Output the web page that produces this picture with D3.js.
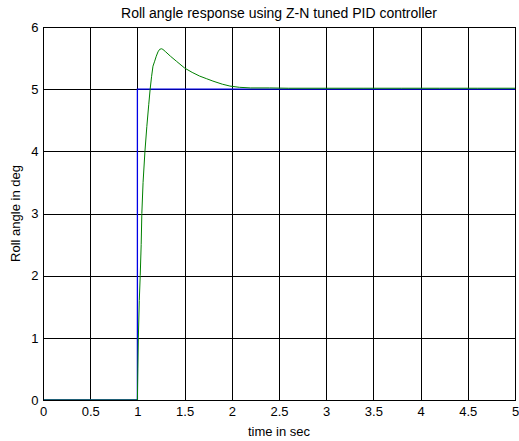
<!DOCTYPE html>
<html>
<head>
<meta charset="utf-8">
<script src="https://cdn.jsdelivr.net/npm/d3@7"></script>
<style>
  body { margin: 0; background: #fff; }
  text { font-family: "Liberation Sans", Arial, sans-serif; fill: #000; }
</style>
</head>
<body>
<div id="chart"></div>
<script>
var width = 519;
var height = 441;
var margin = {top: 27, right: 4, bottom: 41, left: 43};

// reference input (step at t = 1 s)
var stepTime = [0, 1, 1, 5];
var stepAngle = [0, 0, 5, 5];

// roll angle response
var respTime = [0, 1.0, 1.005, 1.01, 1.02, 1.03, 1.04, 1.047, 1.06, 1.08, 1.1, 1.12, 1.135, 1.15, 1.165,
  1.183, 1.2, 1.218, 1.235, 1.254, 1.27, 1.3, 1.35, 1.413, 1.5, 1.58, 1.66, 1.73, 1.8, 1.9, 1.98, 2.08,
  2.2, 2.4, 2.6, 3.0, 3.4, 3.8, 4.2, 4.6, 5.0];
var respAngle = [0, 0, 0.5, 1.0, 1.6, 2.0, 2.5, 3.0, 3.5, 4.0, 4.4, 4.75, 5.0, 5.2, 5.37,
  5.45, 5.53, 5.6, 5.64, 5.65, 5.64, 5.6, 5.53, 5.45, 5.34, 5.27, 5.21, 5.17, 5.13, 5.08, 5.05, 5.03,
  5.02, 5.02, 5.015, 5.015, 5.015, 5.015, 5.015, 5.015, 5.015];

var xTicks = [0, 0.5, 1, 1.5, 2, 2.5, 3, 3.5, 4, 4.5, 5];
var yTicks = [0, 1, 2, 3, 4, 5, 6];

var titleText = "Roll angle response using Z-N tuned PID controller";
var xLabel = "time in sec";
var yLabel = "Roll angle in deg";

var svg = d3.select("#chart").append("svg")
  .attr("width", width)
  .attr("height", height);

var x = d3.scaleLinear().domain([0, 5]).range([margin.left, width - margin.right]);
var y = d3.scaleLinear().domain([0, 6]).range([height - margin.bottom, margin.top]);

// grid
svg.append("g")
  .selectAll("line.vgrid")
  .data(xTicks)
  .enter().append("line")
  .attr("x1", function(d) { return Math.round(x(d)) + 0.5; })
  .attr("x2", function(d) { return Math.round(x(d)) + 0.5; })
  .attr("y1", y(0))
  .attr("y2", y(6))
  .attr("stroke", "#000")
  .attr("stroke-width", 1);

svg.append("g")
  .selectAll("line.hgrid")
  .data(yTicks)
  .enter().append("line")
  .attr("y1", function(d) { return Math.round(y(d)) + 0.5; })
  .attr("y2", function(d) { return Math.round(y(d)) + 0.5; })
  .attr("x1", x(0))
  .attr("x2", x(5))
  .attr("stroke", "#000")
  .attr("stroke-width", 1);

// axes labels (no extra tick marks, grid covers them)
var xAxis = d3.axisBottom(x).tickValues(xTicks).tickSize(0).tickPadding(6).tickFormat(d3.format("~g"));
var yAxis = d3.axisLeft(y).tickValues(yTicks).tickSize(0).tickPadding(5).tickFormat(d3.format("~g"));

svg.append("g")
  .attr("transform", "translate(0," + (y(0) + 0.5) + ")")
  .call(xAxis)
  .call(function(g) { g.select(".domain").remove(); })
  .selectAll("text").style("font-size", "13px").style("font-family", "Liberation Sans, Arial, sans-serif");

svg.append("g")
  .attr("transform", "translate(" + (x(0) + 0.5) + ",0)")
  .call(yAxis)
  .call(function(g) { g.select(".domain").remove(); })
  .selectAll("text").style("font-size", "13px").style("font-family", "Liberation Sans, Arial, sans-serif");

// curves
var line = d3.line()
  .x(function(d) { return x(d[0]); })
  .y(function(d) { return y(d[1]); });

svg.append("path")
  .datum(d3.zip(stepTime, stepAngle))
  .attr("d", line)
  .attr("fill", "none")
  .attr("stroke", "#0000e6")
  .attr("stroke-width", 1.3);

svg.append("path")
  .datum(d3.zip(respTime, respAngle))
  .attr("d", line)
  .attr("fill", "none")
  .attr("stroke", "#008000")
  .attr("stroke-width", 1);

// box
svg.append("rect")
  .attr("x", x(0) + 0.5)
  .attr("y", y(6) + 0.5)
  .attr("width", x(5) - x(0))
  .attr("height", y(0) - y(6))
  .attr("fill", "none")
  .attr("stroke", "#000")
  .attr("stroke-width", 1);

// titles
svg.append("text")
  .attr("x", (x(0) + x(5)) / 2)
  .attr("y", 18)
  .attr("text-anchor", "middle")
  .style("font-size", "14px")
  .text(titleText);

svg.append("text")
  .attr("x", (x(0) + x(5)) / 2)
  .attr("y", 436)
  .attr("text-anchor", "middle")
  .style("font-size", "13px")
  .text(xLabel);

svg.append("text")
  .attr("transform", "translate(20," + ((y(0) + y(6)) / 2) + ") rotate(-90)")
  .attr("text-anchor", "middle")
  .style("font-size", "13px")
  .text(yLabel);
</script>
</body>
</html>
